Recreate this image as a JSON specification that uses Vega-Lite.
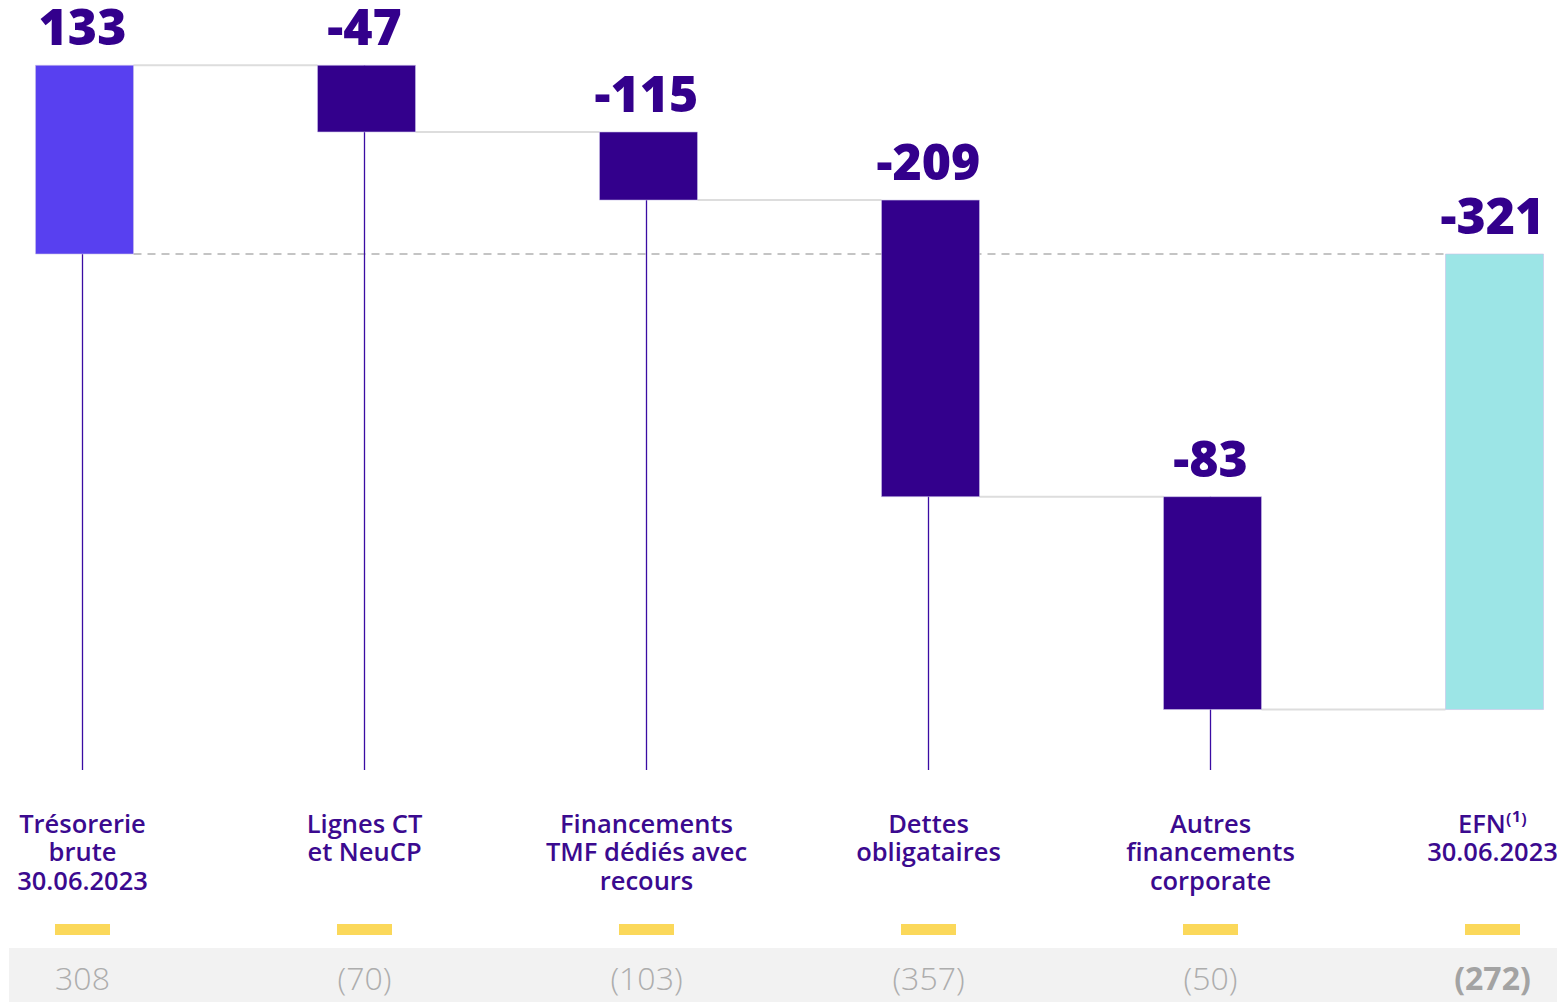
{
  "$schema": "https://vega.github.io/schema/vega-lite/v6.json",
  "autosize": "none",
  "width": 1557,
  "height": 1002,
  "padding": 0,
  "background": "#ffffff",
  "config": {"view": {"stroke": null}, "scale": {"continuousPadding": 0}},
  "data": {
    "values": [
      {"i": 0, "cat": ["Trésorerie", "brute", "30.06.2023"], "label": "133", "start": 0, "end": 133, "top": 133, "ref": "308", "type": "start"},
      {"i": 1, "cat": ["Lignes CT", "et NeuCP"], "label": "-47", "start": 133, "end": 86, "top": 133, "ref": "(70)", "type": "delta"},
      {"i": 2, "cat": ["Financements", "TMF dédiés avec", "recours"], "label": "-115", "start": 86, "end": 38, "top": 86, "ref": "(103)", "type": "delta"},
      {"i": 3, "cat": ["Dettes", "obligataires"], "label": "-209", "start": 38, "end": -171, "top": 38, "ref": "(357)", "type": "delta"},
      {"i": 4, "cat": ["Autres", "financements", "corporate"], "label": "-83", "start": -171, "end": -321, "top": -171, "ref": "(50)", "type": "delta"},
      {"i": 5, "cat": ["EFN⁽¹⁾", "30.06.2023"], "label": "-321", "start": 0, "end": -321, "top": 0, "ref": "(272)", "type": "total"}
    ]
  },
  "encoding": {
    "x": {"field": "i", "type": "quantitative", "scale": {"domain": [-0.29255, 5.22872], "nice": false, "zero": false, "padding": 0}, "axis": null}
  },
  "layer": [
    {
      "transform": [{"filter": "datum.i == 0"}],
      "mark": {"type": "rect", "color": "#f2f2f2"},
      "encoding": {
        "x": {"datum": -0.26064, "type": "quantitative"},
        "x2": {"datum": 5.22872},
        "y": {"datum": -489.1, "type": "quantitative", "scale": {"domain": [-527.1, 179.0], "nice": false, "zero": false, "padding": 0}, "axis": null},
        "y2": {"datum": -527.1}
      }
    },
    {
      "transform": [{"filter": "datum.i == 0"}],
      "mark": {"type": "rule", "color": "#c4c4c4", "strokeWidth": 1.8, "strokeDash": [8, 6], "xOffset": 51, "x2Offset": -47},
      "encoding": {
        "x": {"datum": 0, "type": "quantitative"},
        "x2": {"datum": 5},
        "y": {"datum": 0, "type": "quantitative"}
      }
    },
    {
      "transform": [
        {"window": [{"op": "lead", "field": "i", "as": "ni"}], "sort": [{"field": "i"}]},
        {"filter": "datum.ni != null"}
      ],
      "mark": {"type": "rule", "color": "#dddddd", "strokeWidth": 2, "xOffset": 51, "x2Offset": -47},
      "encoding": {
        "x2": {"field": "ni"},
        "y": {"field": "end", "type": "quantitative"}
      }
    },
    {
      "transform": [{"filter": "datum.type != 'total'"}],
      "mark": {"type": "rule", "color": "#3a0ca3", "strokeWidth": 1.3},
      "encoding": {
        "y": {"field": "start", "type": "quantitative"},
        "y2": {"datum": -363.6}
      }
    },
    {
      "mark": {"type": "bar", "orient": "vertical", "size": 98, "xOffset": 2, "stroke": "#c9bfe8", "strokeWidth": 0.6},
      "encoding": {
        "y": {"field": "start", "type": "quantitative"},
        "y2": {"field": "end"},
        "color": {"field": "type", "type": "nominal", "scale": {"domain": ["start", "delta", "total"], "range": ["#5840f0", "#33008c", "#9ce5e6"]}, "legend": null}
      }
    },
    {
      "mark": {"type": "text", "font": "Open Sans", "fontWeight": 800, "fontSize": 50, "color": "#33008c", "baseline": "alphabetic", "align": "center", "dy": -20},
      "encoding": {
        "y": {"field": "top", "type": "quantitative"},
        "text": {"field": "label"}
      }
    },
    {
      "mark": {"type": "text", "font": "Open Sans", "fontWeight": 600, "fontSize": 25.5, "color": "#3b0a8f", "baseline": "alphabetic", "align": "center", "lineHeight": 28.5},
      "encoding": {
        "y": {"datum": -408.0, "type": "quantitative"},
        "text": {"field": "cat"}
      }
    },
    {
      "mark": {"type": "bar", "orient": "vertical", "size": 55, "color": "#fbd85a"},
      "encoding": {
        "y": {"datum": -472.2, "type": "quantitative"},
        "y2": {"datum": -479.9}
      }
    },
    {
      "transform": [{"filter": "datum.type != 'total'"}],
      "mark": {"type": "text", "font": "Open Sans", "fontSize": 32, "fontWeight": 300, "color": "#adadad", "baseline": "alphabetic", "align": "center"},
      "encoding": {
        "y": {"datum": -518.7, "type": "quantitative"},
        "text": {"field": "ref"}
      }
    },
    {
      "transform": [{"filter": "datum.type == 'total'"}],
      "mark": {"type": "text", "font": "Open Sans", "fontSize": 32, "fontWeight": "bold", "color": "#a3a3a3", "baseline": "alphabetic", "align": "center"},
      "encoding": {
        "y": {"datum": -518.7, "type": "quantitative"},
        "text": {"field": "ref"}
      }
    }
  ]
}
